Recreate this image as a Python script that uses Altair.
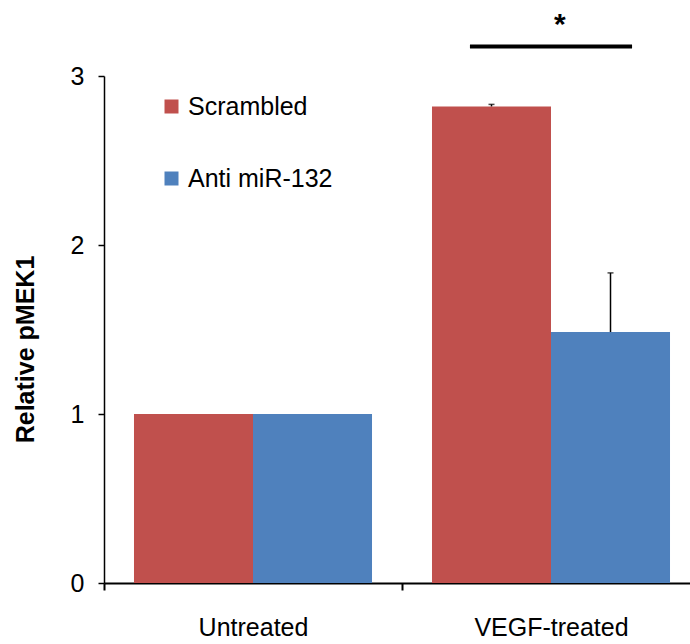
import altair as alt
import pandas as pd

# ---- data ----
categories = ["Untreated", "VEGF-treated"]
series = ["Scrambled", "Anti miR-132"]
scrambled = [1.0, 2.82]
anti_mir = [1.0, 1.485]
scrambled_err = [0.0, 0.012]
anti_mir_err = [0.0, 0.35]
colors = ["#C0504D", "#4F81BD"]

# significance annotation (x in category units: 0..2, y in data units)
sig_start = [1.228]
sig_end = [1.772]
sig_level = [3.175]
star_pos = [1.53]
star_level = [3.25]
star_text = ["*"]

FONT = "Liberation Sans"

df = pd.DataFrame({
    "category": categories * 2,
    "series": [series[0]] * len(categories) + [series[1]] * len(categories),
    "value": scrambled + anti_mir,
    "err": scrambled_err + anti_mir_err,
})
df["top"] = df["value"] + df["err"]
df_err = df[df["err"] > 0]

sig_df = pd.DataFrame({"x": sig_start, "x2": sig_end, "y": sig_level})
star_df = pd.DataFrame({"x": star_pos, "y": star_level, "t": star_text})

x_enc = alt.X(
    "category:N",
    sort=categories,
    scale=alt.Scale(domain=categories, range=[0, 596], paddingInner=0, paddingOuter=0),
    axis=alt.Axis(
        title=None, labelAngle=0, tickBand="extent", labelFontSize=25, labelFont=FONT,
        labelColor="black", labelPadding=25, tickSize=7, tickWidth=2, tickColor="black",
        domainColor="black", domainWidth=2, grid=False,
    ),
)
xo_enc = alt.XOffset(
    "series:N", sort=series,
    scale=alt.Scale(domain=series, paddingOuter=0.252, paddingInner=0),
)
y_enc = alt.Y(
    "value:Q",
    scale=alt.Scale(domain=[0, 3], nice=False),
    axis=alt.Axis(
        values=[0, 1, 2, 3], format="d", title="Relative pMEK1",
        titleFont=FONT, titleFontSize=25, titleFontWeight="bold", titleColor="black",
        titleX=-79, titleY=273, titleAlign="center", titleBaseline="middle", titleAngle=270,
        labelFontSize=25, labelFont=FONT, labelColor="black", labelPadding=14,
        tickSize=6, tickWidth=1.5, tickColor="black", domainColor="black", domainWidth=1.5,
        grid=False,
    ),
)

bars = alt.Chart(df).mark_bar().encode(
    x=x_enc,
    xOffset=xo_enc,
    y=y_enc,
    color=alt.Color(
        "series:N",
        scale=alt.Scale(domain=series, range=colors),
        legend=alt.Legend(
            title=None, orient="none", legendX=55, legendY=18, symbolType="square",
            symbolSize=196, symbolStrokeWidth=0, labelFontSize=25, labelFont=FONT,
            labelColor="black", rowPadding=46, labelOffset=4, padding=0,
        ),
    ),
)

err_rule = alt.Chart(df_err).mark_rule(color="black", strokeWidth=1.5).encode(
    x=x_enc, xOffset=xo_enc, y="value:Q", y2="top:Q",
)
err_cap = alt.Chart(df_err).mark_tick(color="black", thickness=1.5, size=6).encode(
    x=x_enc, xOffset=xo_enc, y="top:Q",
)

ann_x = alt.Scale(domain=[0, 2], range=[0, 596])
sig_line = alt.Chart(sig_df).mark_rule(color="black", strokeWidth=4).encode(
    x=alt.X("x:Q", scale=ann_x, axis=None),
    x2="x2:Q",
    y=alt.Y("y:Q"),
)
star = alt.Chart(star_df).mark_text(
    font=FONT, fontSize=30, fontWeight="bold", color="black", align="center", baseline="alphabetic",
).encode(
    x=alt.X("x:Q", scale=ann_x, axis=None),
    y=alt.Y("y:Q"),
    text="t:N",
)

main = alt.layer(bars, err_rule, err_cap)
ann = alt.layer(sig_line, star)

chart = alt.layer(main, ann).resolve_scale(x="independent").properties(
    width=586, height=507,
    autosize=alt.AutoSizeParams(type="none"),
    padding={"left": 104, "top": 76, "right": 0, "bottom": 61},
    background="white",
).configure_view(stroke=None)

chart.save("out.html", embed_options={"renderer": "svg", "actions": False})
